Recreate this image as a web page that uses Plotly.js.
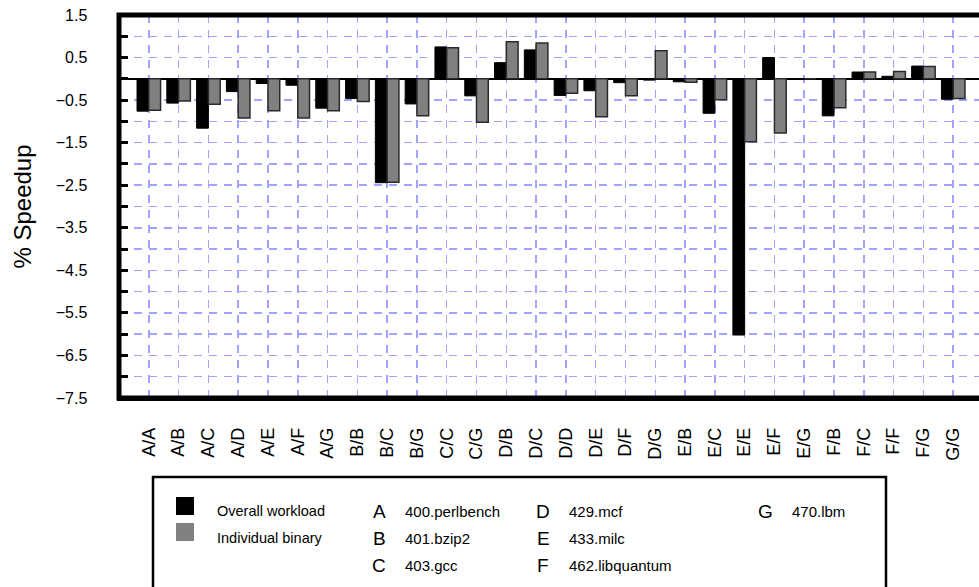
<!DOCTYPE html>
<html>
<head>
<meta charset="utf-8">
<script src="https://cdn.plot.ly/plotly-3.0.1.min.js"></script>
<style>
html,body{margin:0;padding:0;overflow:hidden;background:#fff;}
#chart{width:990px;height:587px;}
</style>
</head>
<body>
<div id="chart"></div>
<script>
// ---- data ----
const categories = ['A/A','A/B','A/C','A/D','A/E','A/F','A/G','B/B','B/C','B/G','C/C','C/G','D/B','D/C','D/D','D/E','D/F','D/G','E/B','E/C','E/E','E/F','E/G','F/B','F/C','F/F','F/G','G/G'];
const overallWorkload = [-0.76,-0.57,-1.16,-0.30,-0.11,-0.15,-0.69,-0.46,-2.44,-0.59,0.75,-0.40,0.38,0.68,-0.39,-0.28,-0.09,-0.03,-0.07,-0.81,-6.02,0.50,0,-0.87,0.16,0.06,0.30,-0.48];
const individualBinary = [-0.74,-0.52,-0.60,-0.92,-0.75,-0.92,-0.75,-0.53,-2.43,-0.87,0.73,-1.02,0.87,0.84,-0.34,-0.89,-0.40,0.66,-0.08,-0.49,-1.48,-1.27,0,-0.68,0.16,0.17,0.29,-0.46];
const seriesNames = ['Overall workload','Individual binary'];
const yTickVals = [1.5,1,0.5,0,-0.5,-1,-1.5,-2,-2.5,-3,-3.5,-4,-4.5,-5,-5.5,-6,-6.5,-7,-7.5];
const yTickText = ['1.5','','0.5','','\u22120.5','','\u22121.5','','\u22122.5','','\u22123.5','','\u22124.5','','\u22125.5','','\u22126.5','','\u22127.5'];
const yLabelVals = [1.5,0.5,-0.5,-1.5,-2.5,-3.5,-4.5,-5.5,-6.5,-7.5];
const benchLetters = ['A','B','C','D','E','F','G'];
const benchNames = ['400.perlbench','401.bzip2','403.gcc','429.mcf','433.milc','462.libquantum','470.lbm'];

// ---- layout helpers (pixel -> paper) ----
const PL=119, PR=983, PT=15, PB=398;
const px = p => (p-PL)/(PR-PL);
const py = p => (PB-p)/(PB-PT);
const FONT = 'Liberation Sans, Arial, Helvetica, sans-serif';
const GRID = '#a3a3ff';

const traces = [
  {type:'bar', name:seriesNames[0], x:categories, y:overallWorkload,
   marker:{color:'#000000', line:{color:'#000000', width:1}}},
  {type:'bar', name:seriesNames[1], x:categories, y:individualBinary,
   marker:{color:'#808080', line:{color:'#2a2a2a', width:1.5}}}
];

const shapes = [
  {type:'rect', xref:'paper', yref:'paper', x0:0, x1:1, y0:0, y1:1,
   line:{color:'#000', width:5}, layer:'above'},
  // legend box
  {type:'rect', xref:'paper', yref:'paper', x0:px(153), x1:px(886), y0:py(477), y1:py(595),
   line:{color:'#000', width:2.5}, fillcolor:'rgba(0,0,0,0)', layer:'above'},
  // legend swatches
  {type:'rect', xref:'paper', yref:'paper', x0:px(176), x1:px(194), y0:py(497), y1:py(515),
   line:{width:0}, fillcolor:'#000'},
  {type:'rect', xref:'paper', yref:'paper', x0:px(176), x1:px(194), y0:py(523), y1:py(541),
   line:{width:0}, fillcolor:'#808080'}
];

const annotations = [];
const rowY = [511, 538, 565];
annotations.push({xref:'paper', yref:'paper', x:px(215), y:py(rowY[0]), xanchor:'left', yanchor:'middle',
  text:seriesNames[0], showarrow:false, font:{family:FONT, size:14.5, color:'#000'}});
annotations.push({xref:'paper', yref:'paper', x:px(215), y:py(rowY[1]), xanchor:'left', yanchor:'middle',
  text:seriesNames[1], showarrow:false, font:{family:FONT, size:14.5, color:'#000'}});
const colLetterX = [379, 543, 765];
const colNameX = [403, 567, 790];
benchLetters.forEach((L, i) => {
  const col = Math.floor(i/3), row = i%3;
  annotations.push({xref:'paper', yref:'paper', x:px(colLetterX[col]), y:py(rowY[row]), xanchor:'center', yanchor:'middle',
    text:L, showarrow:false, font:{family:FONT, size:19, color:'#000'}});
  annotations.push({xref:'paper', yref:'paper', x:px(colNameX[col]), y:py(rowY[row]), xanchor:'left', yanchor:'middle',
    text:benchNames[i], showarrow:false, font:{family:FONT, size:15, color:'#000'}});
});

const layout = {
  width:990, height:587,
  margin:{l:PL, r:990-PR, t:PT, b:587-PB, pad:0},
  paper_bgcolor:'#fff', plot_bgcolor:'#fff',
  showlegend:false,
  barmode:'group', bargap:0.21, bargroupgap:0,
  font:{family:FONT, color:'#000'},
  xaxis:{type:'category', range:[-1,28], showgrid:true, gridcolor:GRID, gridwidth:1.5, griddash:'8px,7px',
    tickangle:-90, ticks:'', showline:true, linecolor:'#000', linewidth:2.5, mirror:true,
    zeroline:false, tickfont:{family:FONT, size:18, color:'#000'},
    ticklabelstandoff:20, fixedrange:true},
  yaxis:{range:[-7.5,1.5], tickmode:'array', tickvals:yTickVals, ticktext:yTickText,
    ticks:'inside', ticklen:9, tickwidth:3, tickcolor:'#000',
    showline:true, linecolor:'#000', linewidth:2.5, mirror:true,
    showgrid:true, gridcolor:GRID, gridwidth:1.5, griddash:'8px,7px',
    zeroline:true, zerolinecolor:'#000', zerolinewidth:2,
    tickfont:{family:FONT, size:16, color:'#000'}, ticklabelstandoff:26,
    title:{text:'% Speedup', font:{family:FONT, size:24, color:'#000'}, standoff:18}, fixedrange:true},
  yaxis2:{overlaying:'y', side:'right', anchor:'x', range:[-7.5,1.5], tickmode:'array', tickvals:yLabelVals,
    ticks:'inside', ticklen:9, tickwidth:3, tickcolor:'#000', showticklabels:false,
    showgrid:false, zeroline:false, showline:false, fixedrange:true},
  shapes:shapes,
  annotations:annotations
};

Plotly.newPlot('chart', traces, layout, {staticPlot:true, displayModeBar:false});
</script>
</body>
</html>
